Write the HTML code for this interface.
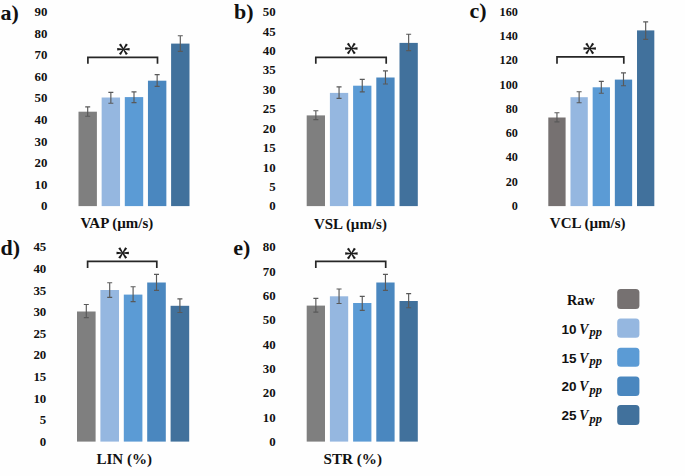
<!DOCTYPE html>
<html><head><meta charset="utf-8"><style>
html,body{margin:0;padding:0;background:#fff;}
body{width:685px;height:476px;overflow:hidden;}
svg{display:block;}
.ttl{font-family:"Liberation Serif", serif;font-weight:bold;font-size:22px;fill:#111;}
.tk{font-family:"Liberation Serif", serif;font-weight:bold;font-size:12.9px;fill:#111;text-anchor:end;}
.xl{font-family:"Liberation Serif", serif;font-weight:bold;font-size:14.2px;fill:#111;}
.lnum{font-family:"Liberation Sans", sans-serif;font-weight:bold;font-size:13.5px;fill:#111;}
.lv{font-family:"Liberation Serif", serif;font-weight:bold;font-style:italic;font-size:13.8px;fill:#111;}
.lpp{font-family:"Liberation Serif", serif;font-weight:bold;font-style:italic;font-size:12.5px;fill:#111;}
path{stroke:#595959;stroke-width:1.15;fill:none;}
path.brk{stroke:#262626;stroke-width:1.7;}
</style></head><body>
<svg width="685" height="476" viewBox="0 0 685 476">
<rect width="685" height="476" fill="#fefefe"/>
<text x="0.6" y="20.4" class="ttl">a)</text>
<text x="47.4" y="210.36" class="tk">0</text>
<text x="47.4" y="188.77" class="tk">10</text>
<text x="47.4" y="167.18" class="tk">20</text>
<text x="47.4" y="145.59" class="tk">30</text>
<text x="47.4" y="124" class="tk">40</text>
<text x="47.4" y="102.42" class="tk">50</text>
<text x="47.4" y="80.83" class="tk">60</text>
<text x="47.4" y="59.24" class="tk">70</text>
<text x="47.4" y="37.65" class="tk">80</text>
<text x="47.4" y="16.06" class="tk">90</text>
<rect x="78.5" y="111.7" width="18.4" height="94.4" fill="#7f7f7f"/>
<rect x="101.65" y="97.5" width="18.4" height="108.6" fill="#95b7e0"/>
<rect x="124.8" y="97.1" width="18.4" height="109" fill="#5b9bd5"/>
<rect x="147.95" y="80.7" width="18.4" height="125.4" fill="#4a87bf"/>
<rect x="171.1" y="43.6" width="18.4" height="162.5" fill="#41719c"/>
<path d="M87.7 106.9V116.2M85.2 106.9h5M85.2 116.2h5" />
<path d="M110.85 92.4V103.2M108.35 92.4h5M108.35 103.2h5" />
<path d="M134 91.8V102.6M131.5 91.8h5M131.5 102.6h5" />
<path d="M157.15 74.6V86.3M154.65 74.6h5M154.65 86.3h5" />
<path d="M180.3 35.7V51.4M177.8 35.7h5M177.8 51.4h5" />
<path class="brk" d="M87.9 63.7V57.4H157.5V63.7"/>
<g fill="#1a1a1a"><polygon points="123.4,49.75 129.6,50.4 129.6,48 123.4,48.65"/><polygon points="122.94,49.51 125.87,55.01 127.86,53.67 123.86,48.89"/><polygon points="122.94,48.89 118.94,53.67 120.93,55.01 123.86,49.51"/><polygon points="123.4,48.65 117.2,48 117.2,50.4 123.4,49.75"/><polygon points="123.86,48.89 120.93,43.39 118.94,44.73 122.94,49.51"/><polygon points="123.86,49.51 127.86,44.73 125.87,43.39 122.94,48.89"/></g>
<text x="80.5" y="228.4" class="xl" textLength="72.7" lengthAdjust="spacingAndGlyphs">VAP (µm/s)</text>
<text x="234" y="19.3" class="ttl">b)</text>
<text x="275.7" y="210.46" class="tk">0</text>
<text x="275.7" y="191.03" class="tk">5</text>
<text x="275.7" y="171.6" class="tk">10</text>
<text x="275.7" y="152.17" class="tk">15</text>
<text x="275.7" y="132.74" class="tk">20</text>
<text x="275.7" y="113.31" class="tk">25</text>
<text x="275.7" y="93.88" class="tk">30</text>
<text x="275.7" y="74.45" class="tk">35</text>
<text x="275.7" y="55.02" class="tk">40</text>
<text x="275.7" y="35.59" class="tk">45</text>
<text x="275.7" y="16.16" class="tk">50</text>
<rect x="306.7" y="115.4" width="18.3" height="90.7" fill="#7f7f7f"/>
<rect x="329.9" y="92.9" width="18.3" height="113.2" fill="#95b7e0"/>
<rect x="353.1" y="85.7" width="18.3" height="120.4" fill="#5b9bd5"/>
<rect x="376.3" y="77.5" width="18.3" height="128.6" fill="#4a87bf"/>
<rect x="399.5" y="42.9" width="18.3" height="163.2" fill="#41719c"/>
<path d="M315.85 110.7V119.6M313.35 110.7h5M313.35 119.6h5" />
<path d="M339.05 86.8V98.4M336.55 86.8h5M336.55 98.4h5" />
<path d="M362.25 79.4V91.8M359.75 79.4h5M359.75 91.8h5" />
<path d="M385.45 70.8V84M382.95 70.8h5M382.95 84h5" />
<path d="M408.65 34.2V50.6M406.15 34.2h5M406.15 50.6h5" />
<path class="brk" d="M315.8 63.7V57.3H386.2V63.7"/>
<g fill="#1a1a1a"><polygon points="351.3,49.05 357.5,49.7 357.5,47.3 351.3,47.95"/><polygon points="350.84,48.81 353.77,54.31 355.76,52.97 351.76,48.19"/><polygon points="350.84,48.19 346.84,52.97 348.83,54.31 351.76,48.81"/><polygon points="351.3,47.95 345.1,47.3 345.1,49.7 351.3,49.05"/><polygon points="351.76,48.19 348.83,42.69 346.84,44.03 350.84,48.81"/><polygon points="351.76,48.81 355.76,44.03 353.77,42.69 350.84,48.19"/></g>
<text x="313.9" y="228.6" class="xl" textLength="73" lengthAdjust="spacingAndGlyphs">VSL (µm/s)</text>
<text x="469.6" y="17.8" class="ttl">c)</text>
<text x="517.9" y="209.92" class="tk" style="font-size:12.2px">0</text>
<text x="517.9" y="185.67" class="tk" style="font-size:12.2px">20</text>
<text x="517.9" y="161.41" class="tk" style="font-size:12.2px">40</text>
<text x="517.9" y="137.15" class="tk" style="font-size:12.2px">60</text>
<text x="517.9" y="112.9" class="tk" style="font-size:12.2px">80</text>
<text x="517.9" y="88.64" class="tk" style="font-size:12.2px">100</text>
<text x="517.9" y="64.39" class="tk" style="font-size:12.2px">120</text>
<text x="517.9" y="40.13" class="tk" style="font-size:12.2px">140</text>
<text x="517.9" y="15.87" class="tk" style="font-size:12.2px">160</text>
<rect x="548.3" y="117.5" width="17.3" height="88.6" fill="#767171"/>
<rect x="570.48" y="97.2" width="17.3" height="108.9" fill="#95b7e0"/>
<rect x="592.66" y="87.3" width="17.3" height="118.8" fill="#5b9bd5"/>
<rect x="614.84" y="79.6" width="17.3" height="126.5" fill="#4a87bf"/>
<rect x="637.02" y="30.4" width="17.3" height="175.7" fill="#41719c"/>
<path d="M556.95 112.7V121.9M554.45 112.7h5M554.45 121.9h5" />
<path d="M579.13 91.7V102.7M576.63 91.7h5M576.63 102.7h5" />
<path d="M601.31 81.3V93.2M598.81 81.3h5M598.81 93.2h5" />
<path d="M623.49 72.9V85.7M620.99 72.9h5M620.99 85.7h5" />
<path d="M645.67 21.8V39.4M643.17 21.8h5M643.17 39.4h5" />
<path class="brk" d="M557 63.8V56.9H623.8V63.8"/>
<g fill="#1a1a1a"><polygon points="589.7,49.05 595.9,49.7 595.9,47.3 589.7,47.95"/><polygon points="589.24,48.81 592.17,54.31 594.16,52.97 590.16,48.19"/><polygon points="589.24,48.19 585.24,52.97 587.23,54.31 590.16,48.81"/><polygon points="589.7,47.95 583.5,47.3 583.5,49.7 589.7,49.05"/><polygon points="590.16,48.19 587.23,42.69 585.24,44.03 589.24,48.81"/><polygon points="590.16,48.81 594.16,44.03 592.17,42.69 589.24,48.19"/></g>
<text x="549.8" y="228.4" class="xl" textLength="75.8" lengthAdjust="spacingAndGlyphs">VCL (µm/s)</text>
<text x="0.4" y="254.6" class="ttl">d)</text>
<text x="46.3" y="445.86" class="tk">0</text>
<text x="46.3" y="424.26" class="tk">5</text>
<text x="46.3" y="402.66" class="tk">10</text>
<text x="46.3" y="381.06" class="tk">15</text>
<text x="46.3" y="359.46" class="tk">20</text>
<text x="46.3" y="337.86" class="tk">25</text>
<text x="46.3" y="316.26" class="tk">30</text>
<text x="46.3" y="294.66" class="tk">35</text>
<text x="46.3" y="273.06" class="tk">40</text>
<text x="46.3" y="251.46" class="tk">45</text>
<rect x="77" y="311.5" width="18.6" height="130.1" fill="#7f7f7f"/>
<rect x="100.4" y="290" width="18.6" height="151.6" fill="#95b7e0"/>
<rect x="123.8" y="294.6" width="18.6" height="147" fill="#5b9bd5"/>
<rect x="147.2" y="282.5" width="18.6" height="159.1" fill="#4a87bf"/>
<rect x="170.6" y="305.8" width="18.6" height="135.8" fill="#41719c"/>
<path d="M86.3 304.5V317.6M83.8 304.5h5M83.8 317.6h5" />
<path d="M109.7 282.7V297.4M107.2 282.7h5M107.2 297.4h5" />
<path d="M133.1 286.7V301.6M130.6 286.7h5M130.6 301.6h5" />
<path d="M156.5 274.3V290.4M154 274.3h5M154 290.4h5" />
<path d="M179.9 298.8V312.5M177.4 298.8h5M177.4 312.5h5" />
<path class="brk" d="M87.6 267.9V261.3H156.8V267.9"/>
<g fill="#1a1a1a"><polygon points="122.7,253.55 128.9,254.2 128.9,251.8 122.7,252.45"/><polygon points="122.24,253.31 125.17,258.81 127.16,257.47 123.16,252.69"/><polygon points="122.24,252.69 118.24,257.47 120.23,258.81 123.16,253.31"/><polygon points="122.7,252.45 116.5,251.8 116.5,254.2 122.7,253.55"/><polygon points="123.16,252.69 120.23,247.19 118.24,248.53 122.24,253.31"/><polygon points="123.16,253.31 127.16,248.53 125.17,247.19 122.24,252.69"/></g>
<text x="96.5" y="463.9" class="xl" textLength="55.5" lengthAdjust="spacingAndGlyphs">LIN (%)</text>
<text x="233.3" y="255.1" class="ttl">e)</text>
<text x="275.6" y="445.86" class="tk">0</text>
<text x="275.6" y="421.55" class="tk">10</text>
<text x="275.6" y="397.24" class="tk">20</text>
<text x="275.6" y="372.92" class="tk">30</text>
<text x="275.6" y="348.61" class="tk">40</text>
<text x="275.6" y="324.3" class="tk">50</text>
<text x="275.6" y="299.99" class="tk">60</text>
<text x="275.6" y="275.67" class="tk">70</text>
<text x="275.6" y="251.36" class="tk">80</text>
<rect x="306.7" y="305.6" width="18.3" height="136" fill="#7f7f7f"/>
<rect x="329.9" y="296.3" width="18.3" height="145.3" fill="#95b7e0"/>
<rect x="353.1" y="303" width="18.3" height="138.6" fill="#5b9bd5"/>
<rect x="376.3" y="282.5" width="18.3" height="159.1" fill="#4a87bf"/>
<rect x="399.5" y="301" width="18.3" height="140.6" fill="#41719c"/>
<path d="M315.85 298.4V312.1M313.35 298.4h5M313.35 312.1h5" />
<path d="M339.05 289V303.5M336.55 289h5M336.55 303.5h5" />
<path d="M362.25 296.3V310.4M359.75 296.3h5M359.75 310.4h5" />
<path d="M385.45 274.3V290.4M382.95 274.3h5M382.95 290.4h5" />
<path d="M408.65 293.6V307.7M406.15 293.6h5M406.15 307.7h5" />
<path class="brk" d="M315.8 268V261.4H385.7V268"/>
<g fill="#1a1a1a"><polygon points="351.4,254.05 357.6,254.7 357.6,252.3 351.4,252.95"/><polygon points="350.94,253.81 353.87,259.31 355.86,257.97 351.86,253.19"/><polygon points="350.94,253.19 346.94,257.97 348.93,259.31 351.86,253.81"/><polygon points="351.4,252.95 345.2,252.3 345.2,254.7 351.4,254.05"/><polygon points="351.86,253.19 348.93,247.69 346.94,249.03 350.94,253.81"/><polygon points="351.86,253.81 355.86,249.03 353.87,247.69 350.94,253.19"/></g>
<text x="323.6" y="463.9" class="xl" textLength="58.4" lengthAdjust="spacingAndGlyphs">STR (%)</text>
<rect x="617.2" y="288.9" width="22.2" height="20" rx="3.5" ry="3.5" fill="#767171"/>
<text x="567.1" y="304.6" class="xl">Raw</text>
<rect x="617.2" y="318.4" width="22.2" height="19.4" rx="3.5" ry="3.5" fill="#95b7e0"/>
<text x="561.5" y="333.7" class="lnum">10</text>
<text x="579.3" y="333.7" class="lv">V</text>
<text x="589.6" y="336.3" class="lpp">pp</text>
<rect x="617.2" y="347.7" width="22.2" height="19.1" rx="3.5" ry="3.5" fill="#5b9bd5"/>
<text x="561.5" y="362.5" class="lnum">15</text>
<text x="579.3" y="362.5" class="lv">V</text>
<text x="589.6" y="365.1" class="lpp">pp</text>
<rect x="617.2" y="376.6" width="22.2" height="19.5" rx="3.5" ry="3.5" fill="#4a87bf"/>
<text x="561.5" y="391.3" class="lnum">20</text>
<text x="579.3" y="391.3" class="lv">V</text>
<text x="589.6" y="393.9" class="lpp">pp</text>
<rect x="617.2" y="405.1" width="22.2" height="19.9" rx="3.5" ry="3.5" fill="#41719c"/>
<text x="561.5" y="420" class="lnum">25</text>
<text x="579.3" y="420" class="lv">V</text>
<text x="589.6" y="422.6" class="lpp">pp</text>
</svg>
</body></html>
